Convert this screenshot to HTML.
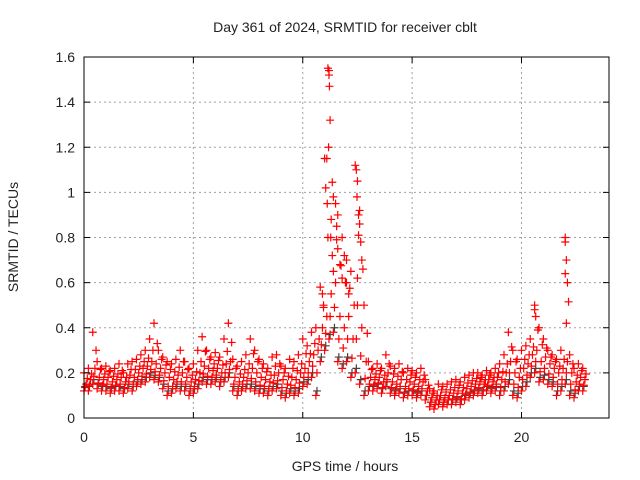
<!DOCTYPE html>
<html><head><meta charset="utf-8"><style>
body{margin:0;background:#fff;}
svg{display:block;font-family:"Liberation Sans",sans-serif;}
</style></head><body>
<svg id="chart" width="640" height="480">
<rect width="640" height="480" fill="#fff"/>
<text x="345" y="32" font-size="14" text-anchor="middle" fill="#222">Day 361 of 2024, SRMTID for receiver cblt</text>
<text x="345" y="471" font-size="14" text-anchor="middle" fill="#222">GPS time / hours</text>
<text transform="translate(18,237) rotate(-90)" font-size="14" text-anchor="middle" fill="#222">SRMTID / TECUs</text>
<g id="grid"></g><g id="marks"></g><g id="axes"></g>
</svg>
<script>
const hours=[0,0.2,0.4,0.6,0.8,1,1.2,1.4,1.6,1.8,2,2.2,2.4,2.6,2.8,3,3.2,3.4,3.6,3.8,4,4.2,4.4,4.6,4.8,5,5.2,5.4,5.6,5.8,6,6.2,6.4,6.6,6.8,7,7.2,7.4,7.6,7.8,8,8.2,8.4,8.6,8.8,9,9.2,9.4,9.6,9.8,10,10.2,10.4,10.6,10.8,11,11.2,11.4,11.6,11.8,12,12.2,12.4,12.6,12.8,13,13.2,13.4,13.6,13.8,14,14.2,14.4,14.6,14.8,15,15.2,15.4,15.6,15.8,16,16.2,16.4,16.6,16.8,17,17.2,17.4,17.6,17.8,18,18.2,18.4,18.6,18.8,19,19.2,19.4,19.6,19.8,20,20.2,20.4,20.6,20.8,21,21.2,21.4,21.6,21.8,22,22.2,22.4,22.6,22.8];
const midVals=[.15,.17,.22,.18,.17,.18,.16,.17,.18,.16,.19,.18,.20,.22,.23,.25,.24,.22,.20,.18,.17,.19,.20,.18,.16,.17,.20,.23,.22,.21,.22,.20,.24,.25,.18,.16,.18,.20,.22,.20,.18,.17,.16,.19,.20,.17,.15,.18,.17,.20,.22,.25,.28,.30,.40,.45,.55,.60,.45,.40,.45,.35,.50,.40,.25,.18,.17,.18,.16,.20,.16,.15,.17,.14,.16,.15,.14,.16,.12,.09,.08,.10,.09,.10,.11,.12,.11,.13,.14,.15,.16,.15,.17,.16,.18,.17,.20,.25,.20,.18,.22,.24,.28,.30,.25,.27,.24,.22,.20,.22,.25,.20,.16,.18,.17];
const lowVals=[.12,.12,.15,.13,.12,.12,.11,.12,.12,.11,.13,.12,.14,.15,.16,.18,.17,.16,.13,.10,.11,.13,.12,.12,.10,.11,.13,.16,.15,.15,.16,.14,.16,.18,.12,.10,.12,.13,.13,.12,.11,.11,.10,.12,.13,.10,.09,.11,.10,.11,.14,.15,.18,.10,.25,.30,.35,.38,.25,.22,.25,.18,.20,.15,.10,.12,.12,.13,.11,.14,.11,.10,.11,.09,.10,.10,.09,.10,.08,.05,.04,.06,.05,.06,.06,.07,.06,.08,.09,.10,.11,.10,.12,.11,.12,.10,.12,.15,.10,.09,.12,.14,.18,.20,.16,.17,.15,.14,.10,.12,.15,.10,.09,.12,.12];
const highVals=[.20,.22,.38,.25,.22,.23,.21,.22,.24,.20,.24,.25,.26,.28,.30,.35,.42,.30,.27,.25,.24,.26,.30,.25,.22,.24,.30,.36,.30,.27,.29,.27,.35,.42,.26,.23,.25,.28,.35,.30,.26,.24,.22,.27,.28,.23,.22,.26,.25,.28,.35,.32,.38,.40,.58,1.15,1.54,.98,.90,.80,.70,.65,1.12,.92,.50,.25,.22,.24,.22,.28,.23,.22,.24,.20,.22,.21,.20,.22,.17,.13,.12,.15,.14,.15,.16,.17,.16,.18,.19,.20,.20,.19,.21,.20,.22,.24,.28,.38,.30,.26,.30,.32,.35,.48,.40,.35,.30,.28,.26,.30,.78,.28,.22,.24,.22];
const spikeHours=[11.15,11.2,11.22,11.25,11.18,11.1,11.05,11.12,11.3,11.28,11.35,11.4,11.5,11.55,11.6,11.7,11.8,11.9,12.0,12.1,12.45,12.5,12.48,12.55,12.6,12.65,12.7,12.5,10.9,10.95,22.0,22.05,22.0,22.1,22.05,20.6,20.65];
const spikeVals=[1.55,1.52,1.47,1.32,1.2,1.15,1.02,0.95,0.88,0.8,0.72,0.65,0.95,0.85,0.75,0.68,0.62,0.72,0.6,0.55,1.1,1.05,0.98,0.9,0.86,0.78,0.7,0.62,0.55,0.5,0.8,0.7,0.64,0.6,0.42,0.5,0.45];
const xTicks=[0,5,10,15,20];
const yTicks=[0,0.2,0.4,0.6,0.8,1,1.2,1.4,1.6];
const yTickLabels=["0","0.2","0.4","0.6","0.8","1","1.2","1.4","1.6"];

const X0=84,X1=609,Y0=418,Y1=57,XMAX=24,YMAX=1.6;
const xs=v=>X0+(X1-X0)*v/XMAX;
const ys=v=>Y0-(Y0-Y1)*v/YMAX;
const NS="http://www.w3.org/2000/svg";
function mk(tag,attrs,parent){const e=document.createElementNS(NS,tag);for(const k in attrs)e.setAttribute(k,attrs[k]);parent.appendChild(e);return e;}
const grid=document.getElementById('grid'),marks=document.getElementById('marks'),axes=document.getElementById('axes');
xTicks.forEach(t=>{
  const x=xs(t);
  if(t>0){const g=mk('line',{x1:x,x2:x,y1:Y1,y2:Y0,stroke:'#a0a0a0','stroke-dasharray':'2,3'},grid);
  
  }
  mk('line',{x1:x,x2:x,y1:Y0,y2:Y0-6,stroke:'#000'},axes);
  mk('line',{x1:x,x2:x,y1:Y1,y2:Y1+6,stroke:'#000'},axes);
  const l=mk('text',{x:x,y:Y0+24,'font-size':14,'text-anchor':'middle',fill:'#222'},axes);
  l.textContent=t;
  
  
});
yTicks.forEach((t,i)=>{
  const y=ys(t);
  if(t>0&&t<YMAX){const g=mk('line',{x1:X0,x2:X1,y1:y,y2:y,stroke:'#a0a0a0','stroke-dasharray':'2,3'},grid);
  
  }
  mk('line',{x1:X0,x2:X0+6,y1:y,y2:y,stroke:'#000'},axes);
  mk('line',{x1:X1,x2:X1-6,y1:y,y2:y,stroke:'#000'},axes);
  const l=mk('text',{x:X0-9,y:y+5,'font-size':14,'text-anchor':'end',fill:'#222'},axes);
  l.textContent=yTickLabels[i];
  
  
});
const frame=mk('rect',{x:X0,y:Y1,width:X1-X0,height:Y0-Y1,fill:'none',stroke:'#000','stroke-width':1},axes);


function plus(v,t,color,name){
  const x=xs(t),y=ys(v);
  const p=mk('path',{d:`M${x-4},${y}h8M${x},${y-4}v8`,stroke:color,'stroke-width':1.2,fill:'none'},marks);
  
  
}
hours.forEach((t,i)=>{plus(lowVals[i]+0.02,t+0.05,'#444','point-black');});
hours.forEach((t,i)=>{
  plus(lowVals[i],t,'#f00','point-low');
  plus(midVals[i],t+0.1,'#f00','point-mid');
  plus(highVals[i],t,'#f00','point-high');
  plus((lowVals[i]+midVals[i])/2,t+0.05,'#f00','point-low-mid');
  plus((highVals[i]+midVals[i])/2,t+0.15,'#f00','point-mid-high');
});
spikeHours.forEach((t,i)=>{plus(spikeVals[i],t,'#f00','point-spike');});
</script>
</body></html>
